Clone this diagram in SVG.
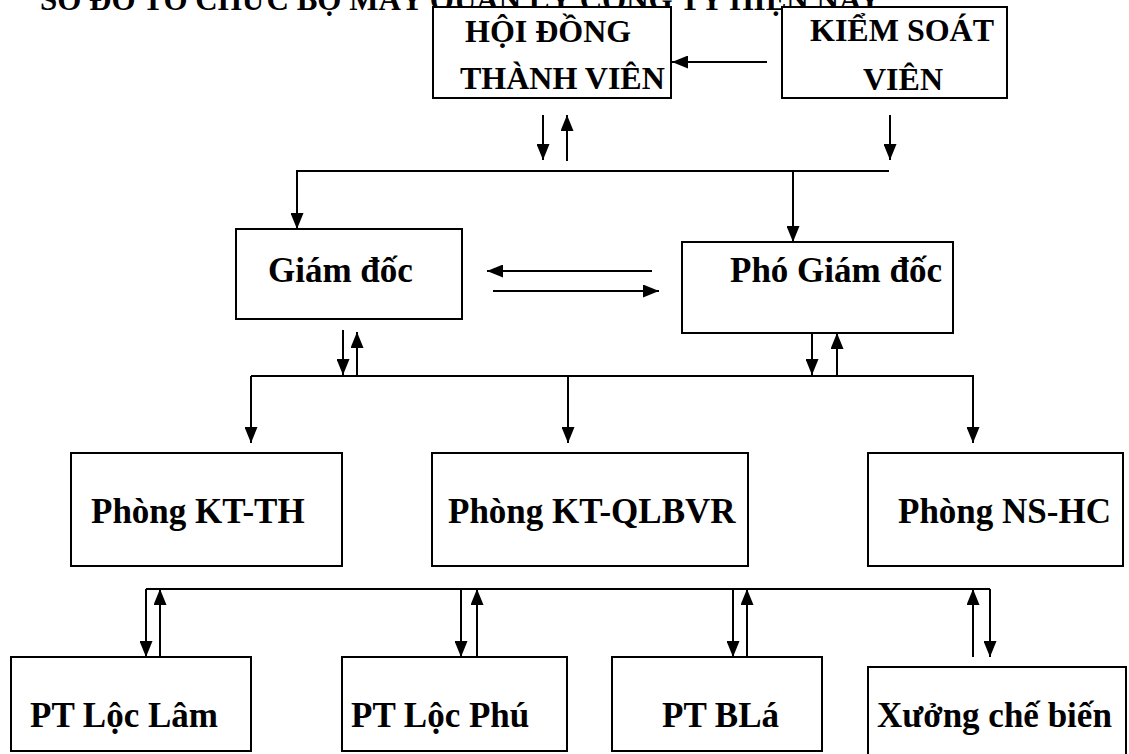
<svg xmlns="http://www.w3.org/2000/svg" width="1129" height="754" viewBox="0 0 1129 754">
<style>
text{font-family:"Liberation Serif","DejaVu Serif",serif;font-weight:bold;fill:#000}
.t{font-size:32px}
.m{font-size:35px}
.box{fill:#fff;stroke:#000;stroke-width:2}
.ln{fill:none;stroke:#000;stroke-width:2}
.ar{fill:none;stroke:#000;stroke-width:2;marker-end:url(#ah)}
</style>
<defs>
<marker id="ah" markerUnits="userSpaceOnUse" markerWidth="17" markerHeight="13" refX="16" refY="6.5" orient="auto">
<path d="M0,0 L16,6.5 L0,13 z" fill="#000"/>
</marker>
</defs>
<rect width="1129" height="754" fill="#fff"/>
<text x="40" y="10" style="font-size:31px">SƠ ĐỒ TỔ CHỨC BỘ MÁY QUẢN LÝ CÔNG TY HIỆN NAY</text>
<g id="hdtv"><rect class="box" x="433" y="7" width="238" height="91"/><text class="t" x="465" y="42">HỘI ĐỒNG</text><text class="t" x="460" y="89">THÀNH VIÊN</text></g>
<g id="ksv"><rect class="box" x="782" y="7" width="225" height="91"/><text class="t" x="810" y="41">KIỂM SOÁT</text><text class="t" x="863" y="90">VIÊN</text></g>
<g id="gd"><rect class="box" x="236" y="229" width="226" height="90"/><text class="m" x="268" y="282">Giám đốc</text></g>
<g id="pgd"><rect class="box" x="682" y="242" width="271" height="91"/><text class="m" x="730" y="282">Phó Giám đốc</text></g>
<g id="ktth"><rect class="box" x="71" y="453" width="271" height="113"/><text class="m" x="91" y="523">Phòng KT-TH</text></g>
<g id="ktql"><rect class="box" x="432" y="453" width="316" height="113"/><text class="m" x="448" y="523">Phòng KT-QLBVR</text></g>
<g id="nshc"><rect class="box" x="868" y="453" width="255" height="113"/><text class="m" x="898" y="523">Phòng NS-HC</text></g>
<g id="loclam"><rect class="box" x="11" y="657" width="240" height="94"/><text class="m" x="30" y="727">PT Lộc Lâm</text></g>
<g id="locphu"><rect class="box" x="342" y="657" width="225" height="94"/><text class="m" x="351" y="727">PT Lộc Phú</text></g>
<g id="bla"><rect class="box" x="612" y="657" width="210" height="94"/><text class="m" x="662" y="727">PT BLá</text></g>
<g id="xuong"><rect class="box" x="868" y="667" width="258" height="90"/><text class="m" x="877" y="727">Xưởng chế biến</text></g>
<g id="connectors">
<line class="ar" x1="767" y1="62" x2="672" y2="62"/>
<line class="ar" x1="543" y1="115" x2="543" y2="160"/>
<line class="ar" x1="567" y1="161" x2="567" y2="115"/>
<line class="ar" x1="890" y1="115" x2="890" y2="160"/>
<polyline class="ar" points="889,171 297,171 297,229"/>
<line class="ar" x1="793" y1="171" x2="793" y2="242"/>
<line class="ar" x1="652" y1="271" x2="487" y2="271"/>
<line class="ar" x1="493" y1="291" x2="659" y2="291"/>
<line class="ar" x1="343" y1="330" x2="343" y2="375"/>
<line class="ar" x1="357" y1="375" x2="357" y2="332"/>
<line class="ar" x1="812" y1="333" x2="812" y2="375"/>
<line class="ar" x1="837" y1="375" x2="837" y2="333"/>
<polyline class="ar" points="251,376 973,376 973,443"/>
<line class="ar" x1="251" y1="376" x2="251" y2="443"/>
<line class="ar" x1="568" y1="376" x2="568" y2="443"/>
<line class="ln" x1="146" y1="589" x2="990" y2="589"/>
<line class="ar" x1="146" y1="589" x2="146" y2="657"/>
<line class="ar" x1="160" y1="657" x2="160" y2="589"/>
<line class="ar" x1="461" y1="589" x2="461" y2="657"/>
<line class="ar" x1="477" y1="657" x2="477" y2="589"/>
<line class="ar" x1="733" y1="589" x2="733" y2="657"/>
<line class="ar" x1="747" y1="657" x2="747" y2="589"/>
<line class="ar" x1="973" y1="657" x2="973" y2="589"/>
<line class="ar" x1="990" y1="589" x2="990" y2="657"/>
</g>
</svg>
